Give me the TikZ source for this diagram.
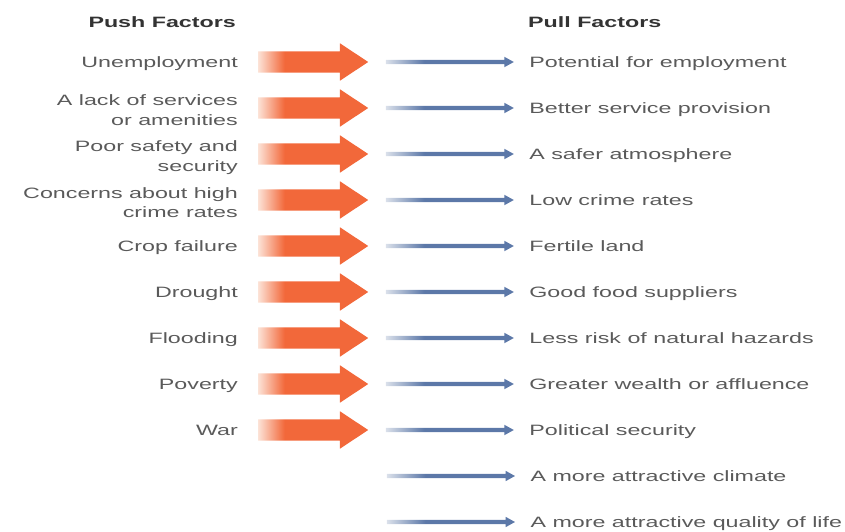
\documentclass[tikz,border=0pt]{standalone}
\usepackage{fontspec}
\setmainfont[FakeStretch=1.55]{Liberation Sans}
\usetikzlibrary{shapes.arrows,positioning}

\definecolor{pushorange}{RGB}{242,104,58}
\definecolor{pushlight}{RGB}{252,226,214}
\definecolor{pullblue}{RGB}{92,120,168}
\definecolor{pulllight}{RGB}{218,224,234}
\definecolor{labelgray}{RGB}{90,90,90}

% soft left end on the arrows
\pgfdeclarehorizontalshading{pushfade}{100bp}{color(0bp)=(pushlight); color(25bp)=(pushlight); color(37bp)=(pushorange); color(100bp)=(pushorange)}
\pgfdeclarehorizontalshading{pullfade}{100bp}{color(0bp)=(pulllight); color(25bp)=(pulllight); color(40bp)=(pullblue); color(100bp)=(pullblue)}

\tikzset{
  factor/.style={font=\fontsize{15}{19.5}\selectfont, text=labelgray, inner sep=0pt,
    text height=11pt, text depth=0pt},
  oneline/.style={},
  twoline/.style={text height=35pt},
  header/.style={font=\fontsize{15}{19.5}\selectfont\bfseries, text=black!80, inner sep=0pt},
  pusharrow/.style={single arrow, shade, shading=pushfade, minimum height=110pt,
    inner xsep=0pt, inner ysep=10.5pt, text height=0pt, text depth=0pt,
    single arrow head extend=8pt, single arrow tip angle=67},
  pullarrow/.style={single arrow, shade, shading=pullfade, minimum height=128pt,
    inner xsep=0pt, inner ysep=2pt, text height=0pt, text depth=0pt,
    single arrow head extend=3pt, single arrow tip angle=58}
}

\begin{document}
\begin{tikzpicture}[x=1pt,y=1pt]
\useasboundingbox (0,0) rectangle (845,531);

\node[header, anchor=east] (pushhead) at (236,509) {Push Factors};
\node[header, anchor=west] (pullhead) at (528,509) {Pull Factors};

\foreach \push/\pull/\kind [count=\i, evaluate=\i as \y using 469-46*(\i-1)] in {
    {Unemployment}/{Potential for employment}/oneline,
    {A lack of services\\or amenities}/{Better service provision}/twoline,
    {Poor safety and\\security}/{A safer atmosphere}/twoline,
    {Concerns about high\\crime rates}/{Low crime rates}/twoline,
    {Crop failure}/{Fertile land}/oneline,
    {Drought}/{Good food suppliers}/oneline,
    {Flooding}/{Less risk of natural hazards}/oneline,
    {Poverty}/{Greater wealth or affluence}/oneline,
    {War}/{Political security}/oneline}
{
  \node[factor, \kind, anchor=east, align=right] (push\i) at (238,\y) {\push};
  \node[pusharrow, right=20pt of push\i] (pa\i) {};
  \node[pullarrow, right=17pt of pa\i] (pb\i) {};
  \node[factor, right=15pt of pb\i] (pull\i) {\pull};
}

% pull factors without a push partner
\node[pullarrow] (pb10) at (449,55) {};
\node[factor, right=15pt of pb10] (pull10) {A more attractive climate};
\node[pullarrow] (pb11) at (449,9) {};
\node[factor, right=15pt of pb11] (pull11) {A more attractive quality of life};

\end{tikzpicture}
\end{document}
